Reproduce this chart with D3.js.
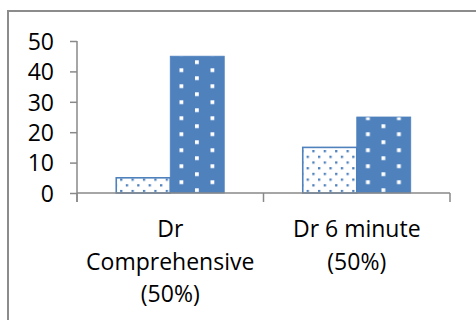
<!DOCTYPE html>
<html>
<head>
<meta charset="utf-8">
<script src="https://cdn.jsdelivr.net/npm/d3@7"></script>
<style>
  html, body { margin: 0; padding: 0; background: #fff; overflow: hidden; }
  svg { display: block; }
  text { font-family: "Open Sans", "Noto Sans", sans-serif; fill: #000; }
</style>
</head>
<body>
<svg id="chart" width="476" height="320"></svg>
<script>
// Chart data
const categories = ["Dr Comprehensive (50%)", "Dr 6 minute (50%)"];
const seriesNames = ["Light dotted", "Solid dotted"];
const lightValues = [5, 15];
const solidValues = [45, 25];
const yTicks = [0, 10, 20, 30, 40, 50];

const blue = "#4f81bd";
const axisGrey = "#898989";
const fontSize = 23;

const svg = d3.select("#chart");

// Chart area frame (extends past the visible window on the right/bottom)
svg.append("rect")
  .attr("x", 8).attr("y", 11)
  .attr("width", 500).attr("height", 340)
  .attr("fill", "#fff")
  .attr("stroke", "#8c8c8c")
  .attr("stroke-width", 2);

const plot = { left: 77, right: 450, top: 41, bottom: 193 };

const x0 = d3.scaleBand()
  .domain(categories)
  .range([plot.left, plot.right])
  .paddingInner(0).paddingOuter(0);

const x1 = d3.scaleBand()
  .domain(seriesNames)
  .range([0, x0.bandwidth()])
  .paddingInner(0).paddingOuter(0.727);

const y = d3.scaleLinear()
  .domain([0, 50])
  .range([plot.bottom, plot.top]);

// Fill patterns
const defs = svg.append("defs");

const pLight = defs.append("pattern")
  .attr("id", "dotsLight")
  .attr("patternUnits", "userSpaceOnUse")
  .attr("x", 311).attr("y", 150)
  .attr("width", 11.4).attr("height", 11.4);
pLight.append("rect").attr("width", 11.4).attr("height", 11.4).attr("fill", "#fff");
pLight.append("rect").attr("x", 0).attr("y", 0).attr("width", 2.3).attr("height", 2.3).attr("fill", blue);
pLight.append("rect").attr("x", 5.7).attr("y", 5.7).attr("width", 2.3).attr("height", 2.3).attr("fill", blue);

const pSolid = defs.append("pattern")
  .attr("id", "dotsSolid")
  .attr("patternUnits", "userSpaceOnUse")
  .attr("x", 180).attr("y", 60.3)
  .attr("width", 31).attr("height", 16);
pSolid.append("rect").attr("width", 31).attr("height", 16).attr("fill", blue);
pSolid.append("rect").attr("x", 0).attr("y", 0).attr("width", 3.8).attr("height", 3.8).attr("fill", "#fff");
pSolid.append("rect").attr("x", 15.5).attr("y", 8).attr("width", 3.8).attr("height", 3.8).attr("fill", "#fff");

const fills = { "Light dotted": "url(#dotsLight)", "Solid dotted": "url(#dotsSolid)" };

// Bars
const rows = categories.map((c, i) => ({
  cat: c,
  values: [
    { series: seriesNames[0], value: lightValues[i] },
    { series: seriesNames[1], value: solidValues[i] }
  ]
}));

const groups = svg.append("g").selectAll("g")
  .data(rows).join("g")
  .attr("transform", d => `translate(${x0(d.cat)},0)`);

groups.selectAll("rect")
  .data(d => d.values).join("rect")
  .attr("x", d => x1(d.series))
  .attr("y", d => y(d.value))
  .attr("width", x1.bandwidth())
  .attr("height", d => y(0) - y(d.value))
  .attr("fill", d => fills[d.series])
  .attr("stroke", blue)
  .attr("stroke-width", d => d.series === seriesNames[0] ? 1.6 : 0.8);

// Y axis
const yAxis = svg.append("g")
  .attr("transform", `translate(${plot.left},0)`)
  .call(d3.axisLeft(y).tickValues(yTicks).tickSize(7).tickSizeOuter(0).tickPadding(16));
yAxis.select(".domain").attr("stroke", axisGrey).attr("stroke-width", 1.5)
  .attr("d", `M0,${plot.top}V${plot.bottom + 9}`);
yAxis.selectAll(".tick line").attr("stroke", axisGrey).attr("stroke-width", 1.5);
yAxis.selectAll(".tick text")
  .attr("font-size", fontSize)
  .attr("font-family", "'Open Sans', sans-serif")
  .attr("fill", "#000")
  .attr("dy", "0.36em");

// X axis: baseline, boundary ticks, wrapped category labels
const xAxis = svg.append("g")
  .attr("transform", `translate(0,${plot.bottom})`)
  .call(d3.axisBottom(x0).tickSize(0).tickSizeOuter(0).tickPadding(0));
xAxis.select(".domain").attr("stroke", axisGrey).attr("stroke-width", 1.5)
  .attr("d", `M${plot.left},0H${plot.right}`);

const bounds = [x0(categories[0])].concat(categories.map(c => x0(c) + x0.bandwidth()));
xAxis.selectAll(".bound").data(bounds).join("line")
  .attr("class", "bound")
  .attr("x1", d => d).attr("x2", d => d)
  .attr("y1", 0).attr("y2", 9)
  .attr("stroke", axisGrey).attr("stroke-width", 1.5);

const lineGap = 32.5;
xAxis.selectAll(".tick text").each(function(d) {
  const t = d3.select(this)
    .attr("font-size", fontSize)
    .attr("font-family", "'Open Sans', sans-serif")
    .attr("fill", "#000")
    .attr("text-anchor", "middle")
    .attr("dy", null)
    .attr("y", 0)
    .text(null);
  const words = d.split(" ");
  const maxW = x0.bandwidth() - 8;
  const lines = [];
  let cur = [];
  const probe = t.append("tspan");
  words.forEach(w => {
    const trial = cur.concat(w).join(" ");
    probe.text(trial);
    if (cur.length && probe.node().getComputedTextLength() > maxW) {
      lines.push(cur.join(" "));
      cur = [w];
    } else {
      cur.push(w);
    }
  });
  lines.push(cur.join(" "));
  probe.remove();
  lines.forEach((ln, i) => {
    t.append("tspan").attr("x", 0).attr("y", 44 + i * lineGap).text(ln);
  });
});
</script>
</body>
</html>
